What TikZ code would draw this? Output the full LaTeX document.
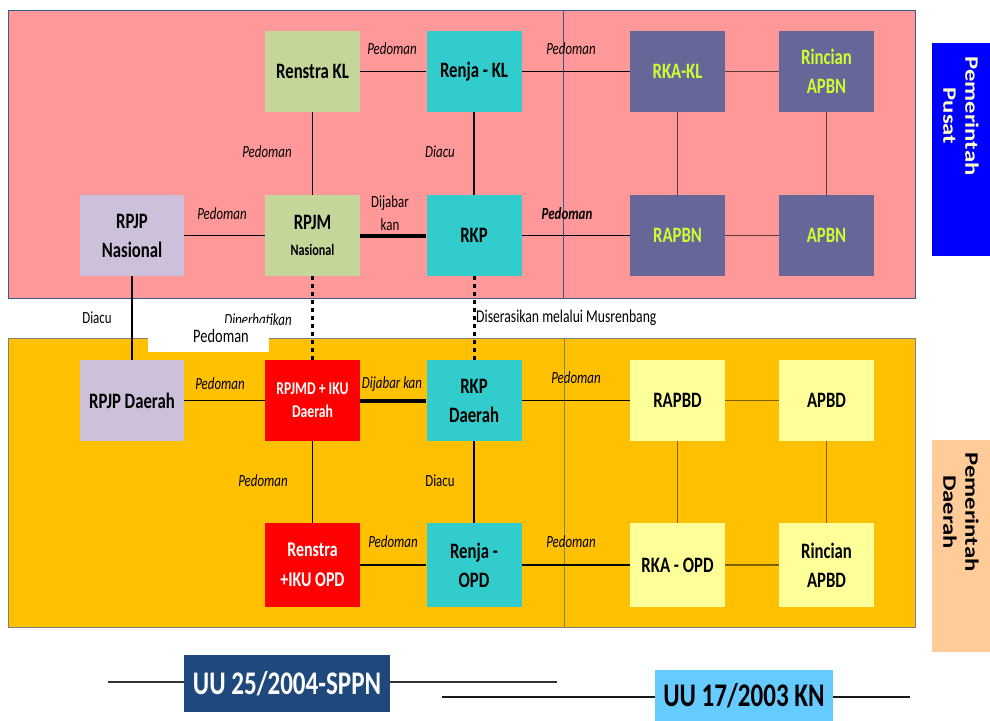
\documentclass[tikz,border=0pt]{standalone}
\usepackage{fontspec}
\setmainfont{Carlito}[FakeStretch=0.76]
\newfontfamily\sidefont{Carlito}[FakeStretch=1.3]
\definecolor{pinkbg}{HTML}{FF9999}
\definecolor{orangebg}{HTML}{FFC000}
\definecolor{olivebox}{HTML}{C4D79B}
\definecolor{cyanbox}{HTML}{33CCCC}
\definecolor{purplebox}{HTML}{666699}
\definecolor{lavbox}{HTML}{CCC0DA}
\definecolor{yelbox}{HTML}{FFFF99}
\definecolor{redbox}{HTML}{FF0000}
\definecolor{limetext}{HTML}{CCFF33}
\definecolor{sideblue}{HTML}{0000FF}
\definecolor{sidepeach}{HTML}{FFCC99}
\definecolor{sideyel}{HTML}{FFFFCC}
\definecolor{uudark}{HTML}{1F497D}
\definecolor{uulight}{HTML}{66CCFF}
\definecolor{pinkedge}{HTML}{385D8A}
\definecolor{orangeedge}{HTML}{7F7F7F}
\definecolor{purpline}{HTML}{5A3A3A}
\definecolor{yelline}{HTML}{7F6000}
\begin{document}
\begin{tikzpicture}[x=1pt,y=-1pt,
  box/.style={rectangle,minimum width=95pt,minimum height=81pt,inner sep=0pt,align=center,
    font=\bfseries\fontsize{22}{29}\selectfont},
  widebox/.style={box,minimum width=104pt},
  olv/.style={box,fill=olivebox},
  cyn/.style={box,fill=cyanbox},
  prp/.style={box,fill=purplebox,text=limetext},
  lav/.style={widebox,fill=lavbox},
  yel/.style={box,fill=yelbox},
  rd/.style={box,fill=redbox,text=white},
  lab/.style={inner sep=0pt,font=\itshape\fontsize{17}{19}\selectfont},
  labn/.style={inner sep=0pt,font=\fontsize{17}{23}\selectfont,align=center},
  thin/.style={line width=1.3pt},
  mid/.style={line width=2.5pt},
  heavy/.style={line width=4pt},
  dots/.style={line width=3pt,dash pattern=on 4pt off 4pt},
  side/.style={rotate=-90,align=center,inner sep=0pt,font=\sidefont\bfseries\fontsize{19}{22}\selectfont},
  uu/.style={inner sep=0pt,font=\bfseries\fontsize{33}{35}\selectfont}
]
\useasboundingbox (0,0) rectangle (990,720);
% backgrounds
\fill[pinkbg,draw=pinkedge,line width=1pt] (8,10) rectangle (915,298);
\draw[pinkedge,line width=0.8pt] (563,10) -- (563,298);
\fill[orangebg,draw=orangeedge,line width=1pt] (8,338) rectangle (915,627);
\draw[orangeedge,line width=1pt] (564,338) -- (564,627);
% side labels
\node[fill=sideblue,minimum width=58pt,minimum height=213pt,inner sep=0pt] (sb) at (961,149.5) {};
\node[side,text=sideyel] (sbt) at (961,116) {Pemerintah\\Pusat};
\node[fill=sidepeach,minimum width=58pt,minimum height=212pt,inner sep=0pt] (sp) at (961,546) {};
\node[side,text=black] (spt) at (961,512) {Pemerintah\\Daerah};
% top nodes
\node[olv] (renstra) at (312.5,71.5) {Renstra KL};
\node[cyn] (renja) at (474,71.5) {Renja - KL};
\node[prp] (rkakl) at (677.5,71.5) {RKA-KL};
\node[prp] (rincianapbn) at (826.5,71.5) {Rincian\\APBN};
\node[lav] (rpjpn) at (132,235.5) {RPJP\\Nasional};
\node[olv,font=\bfseries\fontsize{22}{26}\selectfont] (rpjmn) at (312.5,235.5) {RPJM\\{\fontsize{16}{18}\selectfont Nasional}};
\node[cyn] (rkp) at (474,235.5) {RKP};
\node[prp] (rapbn) at (677.5,235.5) {RAPBN};
\node[prp] (apbn) at (826.5,235.5) {APBN};
% bottom nodes
\node[lav] (rpjpd) at (132,400.5) {RPJP Daerah};
\node[rd,font=\bfseries\fontsize{18}{23}\selectfont] (rpjmd) at (312.5,400.5) {RPJMD + IKU\\Daerah};
\node[cyn] (rkpd) at (474,400.5) {RKP\\Daerah};
\node[yel] (rapbd) at (677.5,400.5) {RAPBD};
\node[yel] (apbd) at (826.5,400.5) {APBD};
\node[rd,minimum height=84pt,font=\bfseries\fontsize{21}{30}\selectfont] (renstraopd) at (312.5,565) {Renstra\\+IKU OPD};
\node[cyn,minimum height=84pt] (renjaopd) at (474,565) {Renja -\\OPD};
\node[yel,minimum height=84pt] (rkaopd) at (677.5,565) {RKA - OPD};
\node[yel,minimum height=84pt] (rincianapbd) at (826.5,565) {Rincian\\APBD};
% top connectors
\draw[thin] (renstra) -- (renja);
\draw[thin] (renja) -- (rkakl);
\draw[thin,purpline] (rkakl) -- (rincianapbn);
\draw[thin] (renstra) -- (rpjmn);
\draw[mid] (renja) -- (rkp);
\draw[thin] (rpjpn) -- (rpjmn);
\draw[heavy] (rpjmn) -- (rkp);
\draw[thin] (rkp) -- (rapbn);
\draw[thin,purpline] (rapbn) -- (apbn);
\draw[thin,purpline] (rkakl) -- (rapbn);
\draw[thin,purpline] (rincianapbn) -- (apbn);
% between
\draw[mid] (rpjpn) -- (rpjpd);
\draw[dots] (rpjmn) -- (rpjmd);
\draw[dots] (rkp) -- (rkpd);
% bottom connectors
\draw[thin] (rpjpd) -- (rpjmd);
\draw[heavy] (rpjmd) -- (rkpd);
\draw[thin] (rkpd) -- (rapbd);
\draw[thin,yelline] (rapbd) -- (apbd);
\draw[thin] (rpjmd) -- (renstraopd);
\draw[mid] (rkpd) -- (renjaopd);
\draw[thin] (renstraopd) -- (renjaopd);
\draw[thin] (renjaopd) -- (rkaopd);
\draw[thin,yelline] (rkaopd) -- (rincianapbd);
\draw[thin,yelline] (rapbd) -- (rkaopd);
\draw[thin,yelline] (apbd) -- (rincianapbd);
% labels top
\node[lab] (l1) at (392,49) {Pedoman};
\node[lab] (l2) at (571,49) {Pedoman};
\node[lab] (l3) at (267,152) {Pedoman};
\node[lab] (l4) at (440,152) {Diacu};
\node[lab] (l5) at (222,214) {Pedoman};
\node[labn] (l6) at (390,213) {Dijabar\\kan};
\node[lab,font=\bfseries\itshape\fontsize{17}{19}\selectfont] (l7) at (567,214) {Pedoman};
% labels between
\node[labn] (l8) at (97,318) {Diacu};
\node[lab] (l9) at (258,321) {Diperhatikan};
\node[fill=white,minimum width=121pt,minimum height=29pt,inner sep=0pt] (wb) at (208.5,337.5) {};
\node[labn,font=\fontsize{19}{21}\selectfont] (l10) at (221,336) {Pedoman};
\node[labn,anchor=west,font=\fontsize{18}{20}\selectfont] (l11) at (476,318) {Diserasikan melalui Musrenbang};
% labels bottom
\node[lab] (l12) at (220,384) {Pedoman};
\node[lab] (l13) at (392,384) {Dijabar kan};
\node[lab] (l14) at (576,378) {Pedoman};
\node[lab] (l15) at (263,481) {Pedoman};
\node[labn] (l16) at (440,481) {Diacu};
\node[lab] (l17) at (393,542) {Pedoman};
\node[lab] (l18) at (571,542) {Pedoman};
% UU labels
\coordinate (a1) at (108,682);
\coordinate (a2) at (557,682);
\coordinate (b1) at (442,697);
\coordinate (b2) at (910,697);
\draw[line width=1.3pt,black!80] (a1) -- (a2);
\draw[line width=1.3pt,black!90] (b1) -- (b2);
\node[uu,fill=uudark,text=white,minimum width=206pt,minimum height=57pt] (uu1) at (287,683.5) {UU 25/2004-SPPN};
\node[uu,fill=uulight,text=black,minimum width=178pt,minimum height=52pt] (uu2) at (744,696) {UU 17/2003 KN};
\end{tikzpicture}
\end{document}
